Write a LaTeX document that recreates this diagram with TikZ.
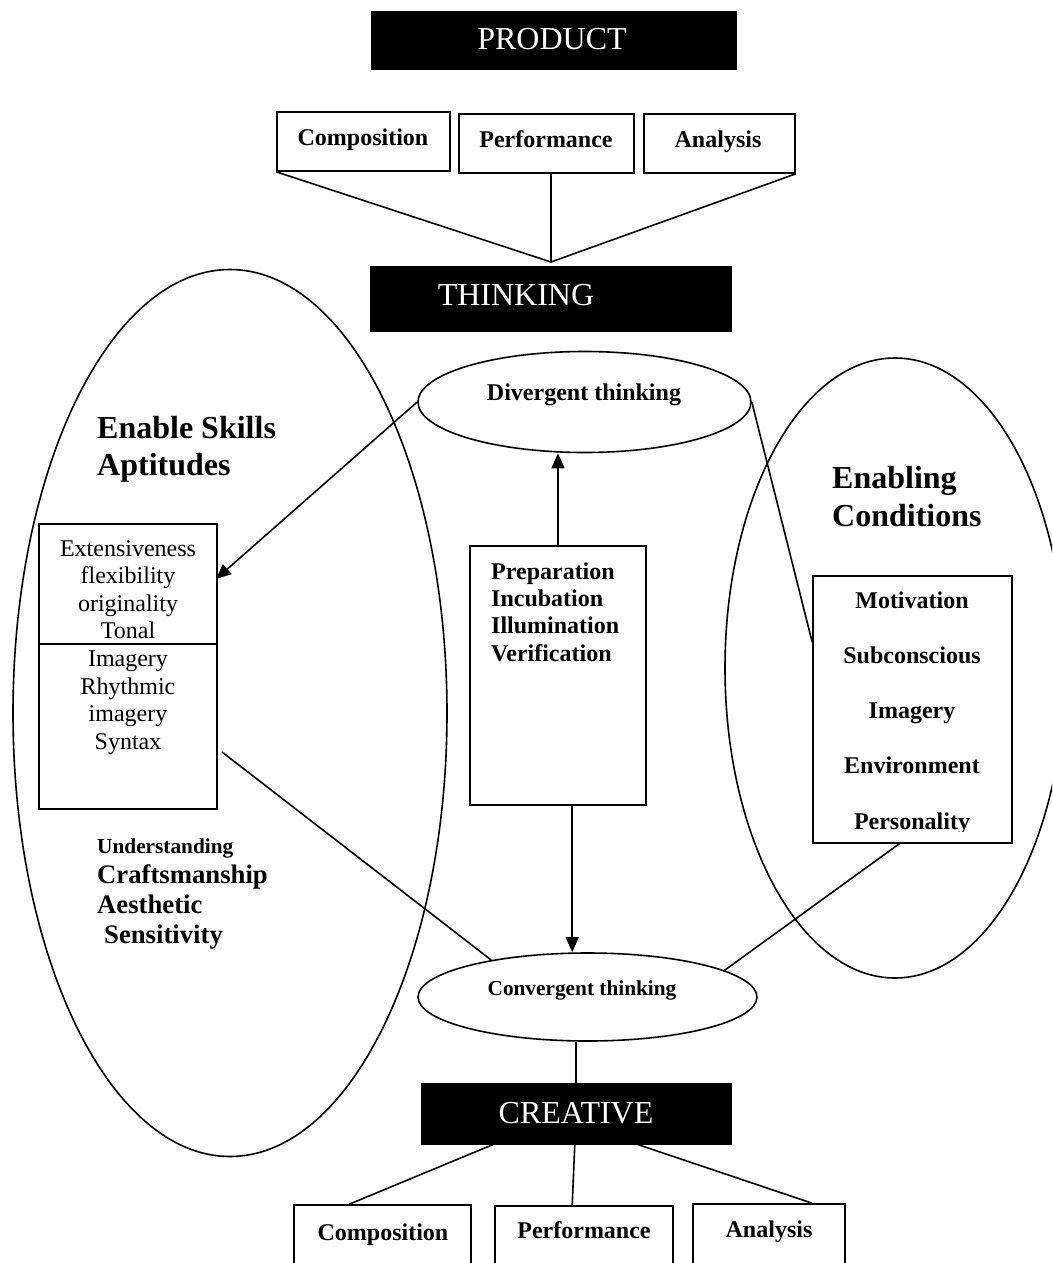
\documentclass[tikz,border=0pt]{standalone}
\usepackage{fontspec}
\setmainfont{Liberation Serif}
\usetikzlibrary{arrows.meta,shapes.geometric,calc}
\begin{document}
\begin{tikzpicture}[x=1pt,y=-1pt,
  ln/.style={line width=1.6pt},
  arr/.style={ln,-{Triangle[length=15pt,width=13pt]}},
  blk/.style={draw=black,fill=black,inner sep=0pt,rectangle},
  wbx/.style={draw=black,ln,inner sep=0pt,rectangle},
  ell/.style={draw=black,ln,ellipse,inner sep=0pt},
  big/.style={inner sep=0pt,font=\fontsize{32}{36.8}\selectfont},
  bigw/.style={big,text=white},
  bigb/.style={big,font=\fontsize{32}{36.8}\selectfont\bfseries},
  lbl/.style={inner sep=0pt,font=\fontsize{24}{27.6}\selectfont\bfseries},
  reg/.style={inner sep=0pt,font=\fontsize{24}{27.6}\selectfont},
  sml/.style={inner sep=0pt,font=\fontsize{21.3}{24.5}\selectfont\bfseries},
  mid/.style={inner sep=0pt,font=\fontsize{26.7}{30}\selectfont\bfseries}
]
\fill[white] (0,0) rectangle (1052,1263);
\clip (0,0) rectangle (1052,1263);

% big ellipses
\node[ell,minimum width=434pt,minimum height=887pt] (skills) at (230,713) {};
\node[ell,minimum width=340pt,minimum height=620pt] (cond) at (895,668) {};

% PRODUCT
\node[blk,minimum width=365pt,minimum height=58pt] (product) at (553.5,40) {};
\node[bigw,anchor=base] (productT) at (552,50) {PRODUCT};

% top boxes
\node[wbx,minimum width=173pt,minimum height=59pt] (comp1) at (363.5,141.5) {};
\node[lbl,anchor=base] (comp1T) at (363,145) {Composition};
\node[wbx,minimum width=175pt,minimum height=59pt] (perf1) at (546.5,143.5) {};
\node[lbl,anchor=base] (perf1T) at (546,147) {Performance};
\node[wbx,minimum width=151pt,minimum height=59pt] (anal1) at (719.5,143.5) {};
\node[lbl,anchor=base] (anal1T) at (718,147) {Analysis};

% THINKING
\node[blk,minimum width=361pt,minimum height=65pt] (think) at (550.5,298.5) {};
\node[bigw,anchor=base] (thinkT) at (516,305) {THINKING};
\coordinate (tj) at (551,262);
\draw[ln] (comp1.south west) -- (tj);
\draw[ln] (perf1.south -| tj) -- (tj);
\draw[ln] (anal1.south east) -- (tj);

% Divergent
\node[ell,minimum width=333pt,minimum height=101pt] (div) at (584.5,402) {};
\node[lbl,anchor=base] (divT) at (584,400) {Divergent thinking};

% Convergent
\node[ell,minimum width=339pt,minimum height=88pt] (conv) at (587.5,997) {};
\node[sml,anchor=base] (convT) at (582,995) {Convergent thinking};

% Enable skills
\node[bigb,anchor=base west] (es1) at (97,438) {Enable Skills};
\node[bigb,anchor=base west] (es2) at (97,475) {Aptitudes};

% Extensiveness box
\node[wbx,minimum width=178pt,minimum height=285pt] (ext) at (128,666.5) {};
\draw[ln] ($(ext.north west)+(0,121)$) -- ($(ext.north east)+(0,121)$);
\foreach \t [count=\i from 0] in {Extensiveness,flexibility,originality,Tonal,Imagery,Rhythmic,imagery,Syntax}
  \node[reg,anchor=base] (ext-\i) at (128,{556+27.6*\i}) {\t};

% Understanding etc
\node[sml,anchor=base west] (und) at (97,853) {Understanding};
\node[mid,anchor=base west] (craft) at (97,883) {Craftsmanship};
\node[mid,anchor=base west] (aes) at (97,913) {Aesthetic};
\node[mid,anchor=base west] (sens) at (104,943) {Sensitivity};

% Preparation box
\node[wbx,minimum width=176pt,minimum height=259pt] (prep) at (558,675.5) {};
\foreach \t [count=\i from 0] in {Preparation,Incubation,Illumination,Verification}
  \node[lbl,anchor=base west] (prep-\i) at (491,{579+27.4*\i}) {\t};

% Enabling conditions
\node[bigb,anchor=base west] (ec1) at (832,488) {Enabling};
\node[bigb,anchor=base west] (ec2) at (832,526) {Conditions};

% Motivation box
\node[wbx,minimum width=199pt,minimum height=267pt] (mot) at (912.5,709.5) {};
\foreach \t [count=\i from 0] in {Motivation,Subconscious,Imagery,Environment}
  \node[lbl,anchor=base] (mot-\i) at (912,{608+55.3*\i}) {\t};
\begin{scope}
  \clip (800,780) rectangle (1020,831);
  \node[lbl,anchor=base] (mot-4) at (912,829) {Personality};
\end{scope}

% CREATIVE
\node[blk,minimum width=310pt,minimum height=61pt] (creative) at (576,1113.5) {};
\node[bigw,anchor=base] (creativeT) at (576,1123) {CREATIVE};

% bottom boxes
\node[wbx,minimum width=177pt,minimum height=90pt] (comp2) at (382.5,1250) {};
\node[lbl,anchor=base] (comp2T) at (383,1240) {Composition};
\node[wbx,minimum width=178pt,minimum height=90pt] (perf2) at (584,1251) {};
\node[lbl,anchor=base] (perf2T) at (584,1238) {Performance};
\node[wbx,minimum width=152pt,minimum height=90pt] (anal2) at (769,1249) {};
\node[lbl,anchor=base] (anal2T) at (769,1237) {Analysis};

% connectors
\coordinate (extin) at (216,579);
\draw[arr] (div.west) -- (extin);
\coordinate (extout) at (222,752);
\draw[ln] (extout) -- (conv.159);
\coordinate (motin) at ($(mot.north west)+(0,67)$);
\draw[ln] (div.east) -- (motin);
\coordinate (motout) at ($(mot.south west)+(87,0)$);
\draw[ln] (motout) -- (conv.11);
\draw[arr] (prep.north) -- (prep.north |- div.south);
\coordinate (pdown) at ($(prep.south west)+(103,0)$);
\draw[arr] (pdown) -- (pdown |- conv.north);
\draw[ln] (creative.north |- conv.south) -- (creative.north);
\draw[ln] ($(creative.south west)+(73,0)$) -- ($(comp2.north west)+(56,0)$);
\draw[ln] ($(creative.south west)+(154,0)$) -- ($(perf2.north west)+(78,0)$);
\draw[ln] ($(creative.south west)+(216,0)$) -- ($(anal2.north west)+(120,0)$);
\end{tikzpicture}
\end{document}
